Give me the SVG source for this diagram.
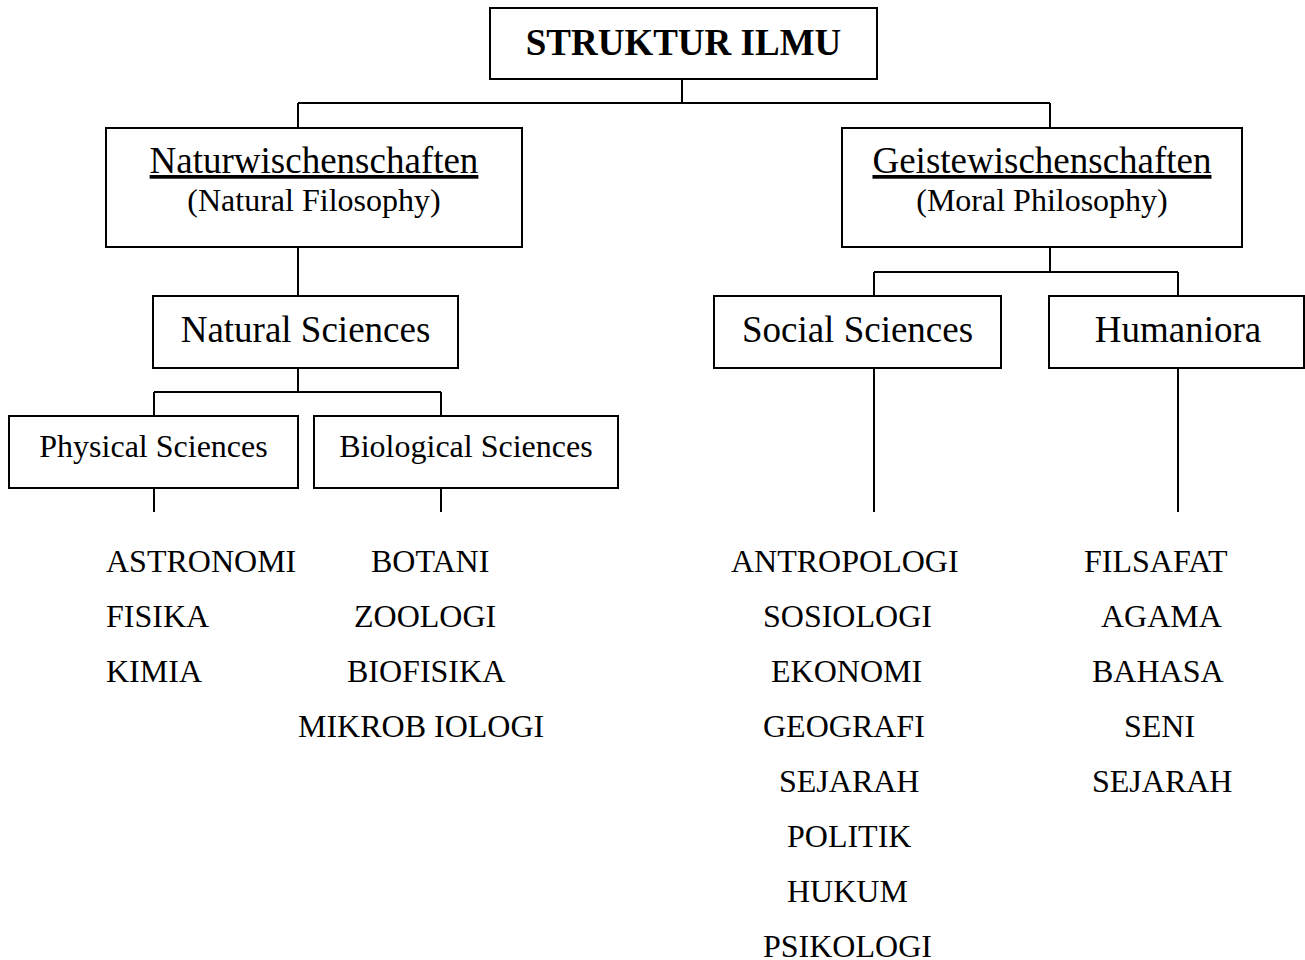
<svg xmlns="http://www.w3.org/2000/svg" width="1305" height="960" viewBox="0 0 1305 960">
<style>
.box{fill:#fff;stroke:#000;stroke-width:2}
.c{fill:none;stroke:#000;stroke-width:2}
text{font-family:"Liberation Serif","Times New Roman",serif;fill:#000}
.h{font-size:37px;text-anchor:middle}
.s{font-size:32px;text-anchor:middle}
.l{font-size:32px}
.u{text-decoration:underline}
</style>
<rect width="1305" height="960" fill="#fff"/>
<g id="connectors">
<path class="c" d="M682 79V103M298 103H1050M298 103V128M1050 103V128"/>
<path class="c" d="M298 247V296M298 368V392M154 392H441M154 392V416M441 392V416M154 488V512M441 488V512"/>
<path class="c" d="M1050 247V272M874 272H1178M874 272V296M1178 272V296M874 368V512M1178 368V512"/>
</g>
<g id="root">
<rect class="box" x="490" y="8" width="387" height="71"/>
<text x="683.5" y="55" style="font-size:37px;font-weight:bold;text-anchor:middle">STRUKTUR ILMU</text>
</g>
<g id="naturwischenschaften">
<rect class="box" x="106" y="128" width="416" height="119"/>
<text class="h u" x="314" y="173">Naturwischenschaften</text>
<text class="s" x="314" y="211">(Natural Filosophy)</text>
</g>
<g id="geistewischenschaften">
<rect class="box" x="842" y="128" width="400" height="119"/>
<text class="h u" x="1042" y="173">Geistewischenschaften</text>
<text class="s" x="1042" y="211">(Moral Philosophy)</text>
</g>
<g id="natural-sciences">
<rect class="box" x="153" y="296" width="305" height="72"/>
<text class="h" x="305.5" y="342">Natural Sciences</text>
</g>
<g id="social-sciences">
<rect class="box" x="714" y="296" width="287" height="72"/>
<text class="h" x="857.5" y="342">Social Sciences</text>
</g>
<g id="humaniora">
<rect class="box" x="1049" y="296" width="255" height="72"/>
<text class="h" x="1178" y="342">Humaniora</text>
</g>
<g id="physical-sciences">
<rect class="box" x="9" y="416" width="289" height="72"/>
<text class="s" x="153.5" y="457">Physical Sciences</text>
</g>
<g id="biological-sciences">
<rect class="box" x="314" y="416" width="304" height="72"/>
<text class="s" x="466" y="457">Biological Sciences</text>
</g>
<g id="physical-list">
<text class="l" x="106" y="572">ASTRONOMI</text>
<text class="l" x="106" y="627">FISIKA</text>
<text class="l" x="106" y="682">KIMIA</text>
</g>
<g id="biological-list">
<text class="l" x="371" y="572">BOTANI</text>
<text class="l" x="354" y="627">ZOOLOGI</text>
<text class="l" x="347" y="682">BIOFISIKA</text>
<text class="l" x="298" y="737">MIKROB IOLOGI</text>
</g>
<g id="social-list">
<text class="l" x="731" y="572">ANTROPOLOGI</text>
<text class="l" x="763" y="627">SOSIOLOGI</text>
<text class="l" x="771" y="682">EKONOMI</text>
<text class="l" x="763" y="737">GEOGRAFI</text>
<text class="l" x="779" y="792">SEJARAH</text>
<text class="l" x="787" y="847">POLITIK</text>
<text class="l" x="787" y="902">HUKUM</text>
<text class="l" x="763" y="957">PSIKOLOGI</text>
</g>
<g id="humaniora-list">
<text class="l" x="1084" y="572">FILSAFAT</text>
<text class="l" x="1101" y="627">AGAMA</text>
<text class="l" x="1092" y="682">BAHASA</text>
<text class="l" x="1124" y="737">SENI</text>
<text class="l" x="1092" y="792">SEJARAH</text>
</g>
</svg>
